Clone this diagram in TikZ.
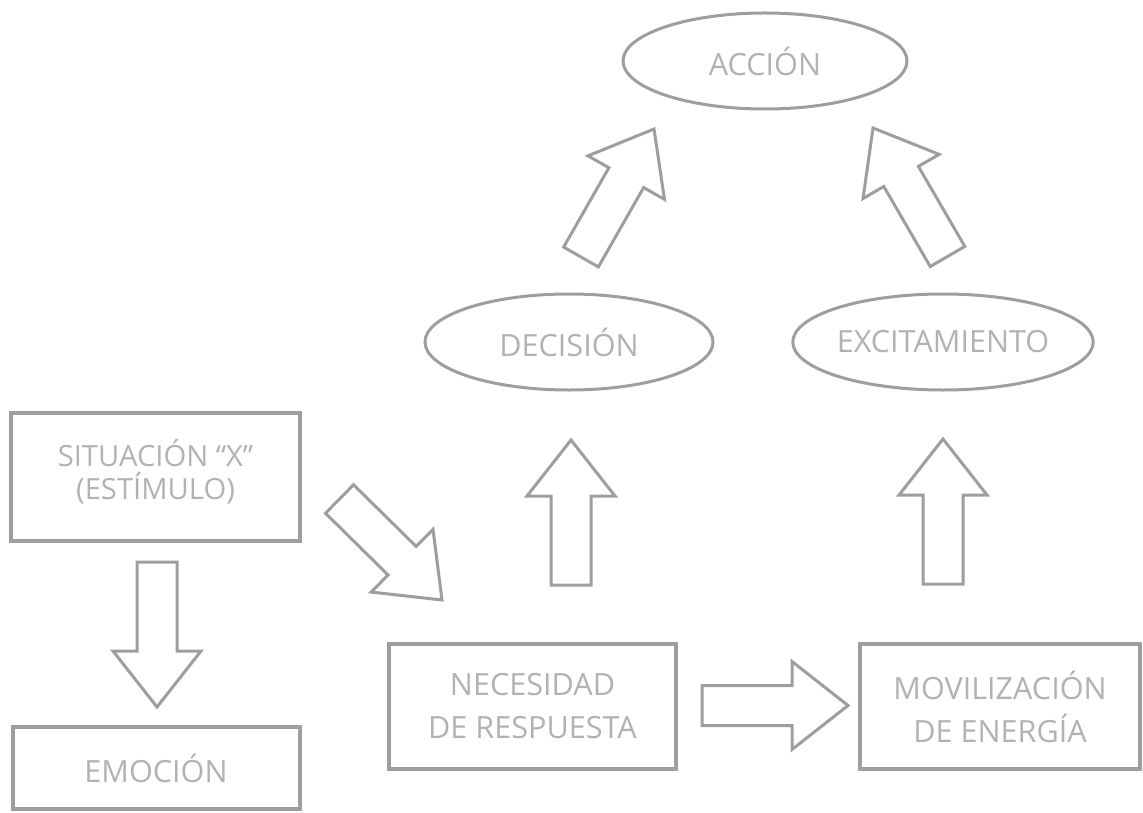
\documentclass[tikz,border=0pt]{standalone}
\usepackage{fontspec}
\setmainfont{Open Sans}
\usetikzlibrary{shapes.geometric,calc}

\definecolor{linegray}{RGB}{158,158,158}
\definecolor{textgray}{RGB}{178,178,178}

% hollow block arrow from #1 (tail) to #2 (tip)
\newcommand\blockarrow[2]{%
  \coordinate (hb) at ($(#2)!28pt!(#1)$);
  \draw[arrowline]
    ($(#1)!10pt!90:(#2)$) --
    ($(hb)!10pt!90:(#2)$) --
    ($(hb)!22pt!90:(#2)$) --
    (#2) --
    ($(hb)!22pt!-90:(#2)$) --
    ($(hb)!10pt!-90:(#2)$) --
    ($(#1)!10pt!-90:(#2)$) -- cycle;
}

\tikzset{
  label text/.style={text=textgray, align=center, inner sep=0pt},
  stagebox/.style={label text, draw=linegray, line width=2pt, rectangle},
  oval/.style={label text, draw=linegray, line width=1.5pt, ellipse,
    minimum width=144pt, minimum height=48pt, font=\fontsize{15.3}{18}\selectfont},
  arrowline/.style={draw=linegray, line width=1.5pt, line join=miter},
}

\begin{document}
\begin{tikzpicture}[x=0.5pt, y=-0.5pt]
  \useasboundingbox (0,0) rectangle (1143,812);

  % rectangular stages
  \node[stagebox, minimum width=144.5pt, minimum height=64pt,
        font=\fontsize{14.6}{16.5}\selectfont] (sit) at (155.5,477)
        {SITUACIÓN “X”\\(ESTÍMULO)\rule[-8pt]{0pt}{0pt}};
  \node[stagebox, minimum width=143.5pt, minimum height=41pt,
        font=\fontsize{15.3}{18}\selectfont] (emo) at (156,768) {EMOCIÓN};
  \node[stagebox, minimum width=143.5pt, minimum height=62.5pt,
        font=\fontsize{15.3}{21.5}\selectfont] (nec) at (532.5,706.5)
        {NECESIDAD\\DE RESPUESTA};
  \node[stagebox, minimum width=140pt, minimum height=62.5pt,
        font=\fontsize{15.3}{21.5}\selectfont] (mov) at (1000,706.5)
        {MOVILIZACIÓN\\DE ENERGÍA};

  % oval stages
  \node[oval, minimum width=142pt] (acc) at (765,61) {ACCIÓN};
  \node[oval] (dec) at (569,342) {DECISIÓN};
  \node[oval] (exc) at (943,342) {EXCITAMIENTO};

  % arrow end points
  \coordinate (a1t) at (157,562);   \coordinate (a1h) at (157,707);
  \coordinate (a2t) at (339.5,499); \coordinate (a2h) at (442,600);
  \coordinate (a3t) at (702,705.5); \coordinate (a3h) at (848,705.5);
  \coordinate (a4t) at (571,585);   \coordinate (a4h) at (571,440);
  \coordinate (a5t) at (943,584);   \coordinate (a5h) at (943,439);
  \coordinate (a6t) at (581,257);   \coordinate (a6h) at (654,129);
  \coordinate (a7t) at (947.5,256.5); \coordinate (a7h) at (873,128);

  \blockarrow{a1t}{a1h}
  \blockarrow{a2t}{a2h}
  \blockarrow{a3t}{a3h}
  \blockarrow{a4t}{a4h}
  \blockarrow{a5t}{a5h}
  \blockarrow{a6t}{a6h}
  \blockarrow{a7t}{a7h}
\end{tikzpicture}
\end{document}
